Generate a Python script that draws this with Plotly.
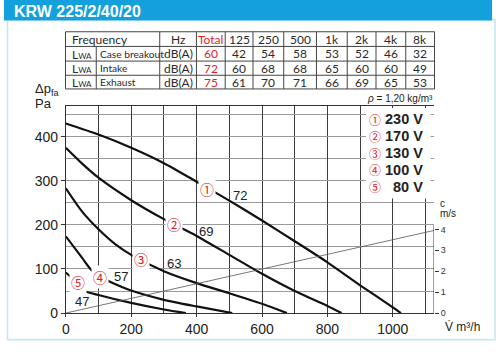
import plotly.graph_objects as go

W, H = 500, 354
TITLE = "KRW 225/2/40/20"

# ---------------- data ----------------
c1_flow = [0, 100, 200, 300, 400, 500, 600, 700, 800, 900, 1000, 1025]
c1_pa = [430, 405, 375, 340, 298, 255, 210, 163, 115, 63, 13, 0]
c2_flow = [0, 50, 100, 200, 300, 400, 500, 600, 700, 800, 843]
c2_pa = [375, 339, 307, 256, 213, 175, 132, 89, 50, 16, 0]
c3_flow = [0, 50, 100, 150, 200, 300, 400, 500, 600, 676]
c3_pa = [283, 230, 190, 157, 132, 95, 68, 45, 21, 0]
c4_flow = [0, 50, 79, 106, 135, 200, 300, 400, 509]
c4_pa = [174, 125, 97, 82, 71, 51, 30, 15, 0]
c5_flow = [0, 15, 36, 54, 100, 200, 300, 367]
c5_pa = [92, 82, 66, 51, 41, 23, 8, 0]
curves = [(c1_flow, c1_pa), (c2_flow, c2_pa), (c3_flow, c3_pa), (c4_flow, c4_pa), (c5_flow, c5_pa)]

# air velocity line (flow m³/h, c m/s)
vel_flow = [0, 1126]
vel_c = [0, 3.95]

marks = ["①", "②", "③", "④", "⑤"]
mark_flow = [433, 332, 231, 106, 36]
mark_pa = [282, 202, 123, 82, 71]
curve_labels = ["72", "69", "63", "57", "47"]
label_flow = [534, 429, 332, 170, 50]
label_pa = [267, 185, 112, 82, 27]
voltages = ["230 V", "170 V", "130 V", "100 V", "80 V"]

x_ticks = [0, 200, 400, 600, 800, 1000]
y_ticks = [0, 100, 200, 300, 400]
c_ticks = [0, 1, 2, 3, 4]

tbl_header = ["Total", "125", "250", "500", "1k", "2k", "4k", "8k"]
tbl_rows = ["Case breakout", "Intake", "Exhaust"]
tbl_total = ["60", "72", "75"]
tbl_bands = [["42", "54", "58", "53", "52", "46", "32"],
             ["60", "68", "68", "65", "60", "60", "49"],
             ["61", "70", "71", "66", "69", "65", "53"]]

# ---------------- layout geometry (px) ----------------
PX0, PX1 = 62.3, 433.5      # plot left/right
PY0, PY1 = 108.3, 320.3     # plot top/bottom
XMAX, YMAX = 1126, 470
C_PER_PX = 1 / 21.4
C_MAX = (PY1 - PY0) * C_PER_PX

def px(x, y):
    return x / W, 1 - y / H

TXT = "#222222"
TBL = "#2a2a2a"
RED = "#e2231a"
NARROW = "Lato, Liberation Sans, Arial, sans-serif"
SANS = "Liberation Sans, Arial, Helvetica, sans-serif"
CJK = "Noto Sans CJK JP, DejaVu Sans, sans-serif"

fig = go.Figure()
for fx, fy in curves:
    fig.add_trace(go.Scatter(x=fx, y=fy, mode="lines", line=dict(color="#111111", width=2.2, shape="spline", smoothing=0.7),
                             hoverinfo="skip", showlegend=False))
fig.add_trace(go.Scatter(x=vel_flow, y=vel_c, yaxis="y2", mode="lines", line=dict(color="#555555", width=0.8),
                         hoverinfo="skip", showlegend=False))

annotations = []
shapes = []

def ann(text, x, y, size, color=TXT, xanchor="center", yanchor="middle", family=SANS, bg=None, ref="paper"):
    if ref == "paper":
        xx, yy = px(x, y)
        d = dict(xref="paper", yref="paper", x=xx, y=yy)
    else:
        d = dict(xref="x", yref="y", x=x, y=y)
    d.update(text=text, showarrow=False, xanchor=xanchor, yanchor=yanchor,
             font=dict(size=size, color=color, family=family))
    if bg:
        d.update(bgcolor=bg, borderpad=1)
    annotations.append(d)

def rect_px(x0, y0, x1, y1, **kw):
    a0, b0 = px(x0, y0)
    a1, b1 = px(x1, y1)
    shapes.append(dict(type="rect", xref="paper", yref="paper", x0=a0, y0=b1, x1=a1, y1=b0, **kw))

def line_px(x0, y0, x1, y1, color="#444444", width=1):
    a0, b0 = px(x0, y0)
    a1, b1 = px(x1, y1)
    shapes.append(dict(type="line", xref="paper", yref="paper", x0=a0, y0=b0, x1=a1, y1=b1,
                       line=dict(color=color, width=width)))

# frame and title bar
rect_px(3.5, 20, 495, 347.5, line=dict(color="#c4e8f4", width=1.6), fillcolor="rgba(0,0,0,0)", layer="below")
rect_px(0, 0, 492, 21, line=dict(width=0), fillcolor="#14a0dc", layer="below")
ann("<b>" + TITLE + "</b>", 8, 11.5, 16, color="white", xanchor="left")

# table
col = [62, 93, 157, 194, 223, 251, 282, 315, 346, 375, 405, 434]
row = [32.5, 47.5, 62.5, 77, 91]
for yv in row:
    line_px(col[0], yv, col[-1], yv)
for i, xv in enumerate(col):
    if i == 1:
        line_px(xv, row[1], xv, row[-1])
    else:
        line_px(xv, row[0], xv, row[-1])
def rc(r):
    return (row[r] + row[r + 1]) / 2
def cc(c):
    return (col[c] + col[c + 1]) / 2
TS = 12
ann("Frequency", 67, rc(0), TS, family=NARROW, xanchor="left", color=TBL)
ann("Hz", cc(2), rc(0), TS, family=NARROW, color=TBL)
for j, h in enumerate(tbl_header):
    ann(h, cc(3 + j), rc(0), TS, family=NARROW, color=RED if j == 0 else TBL)
for r in range(3):
    ann("L<span style='font-size:8px'>WA</span>", 67, rc(r + 1) + 0.5, TS, family=NARROW, xanchor="left", color=TBL)
    ann(tbl_rows[r], 95, rc(r + 1), 10.2, family=NARROW, xanchor="left", color=TBL)
    ann("dB(A)", cc(2), rc(r + 1), TS, family=NARROW, color=TBL)
    ann(tbl_total[r], cc(3), rc(r + 1), TS, family=NARROW, color=RED)
    for j, v in enumerate(tbl_bands[r]):
        ann(v, cc(4 + j), rc(r + 1), TS, family=NARROW, color=TBL)

# axis titles and notes
ann("Δp<sub>fa</sub>", 29, 92, 13, xanchor="left")
ann("Pa", 29, 106, 13, xanchor="left")
ann("<i>ρ</i> = 1,20 kg/m³", 434, 101, 10, xanchor="right")
ann("c", 437, 208, 10, xanchor="left")
ann("m/s", 437, 218, 10, xanchor="left")
ann("V̇ m³/h", 443, 335, 12, xanchor="left")

# curve markers and labels
for m, fx, fy in zip(marks, mark_flow, mark_pa):
    ann(m, fx, fy, 14, color=RED, family=CJK, bg="white", ref="data")
for t, fx, fy in zip(curve_labels, label_flow, label_pa):
    ann(t, fx, fy, 13, ref="data")

# legend box
box_x0 = 918
rect_px(PX0 + box_x0 * (PX1 - PX0) / XMAX, 110.5, 430, 203, line=dict(width=0), fillcolor="white", layer="above")
for i, (m, v) in enumerate(zip(marks, voltages)):
    yy = 122 + 17.3 * i
    ann(m, 374, yy, 12, color=RED, family=CJK)
    ann("<b>" + v + "</b>", 424, yy, 14.5, xanchor="right")

# right velocity axis line
shapes.append(dict(type="line", xref="x", yref="y2", x0=XMAX, x1=XMAX, y0=0, y1=4.2,
                   line=dict(color="#333333", width=1)))

fig.update_layout(
    width=W, height=H, margin=dict(l=0, r=0, t=0, b=0),
    paper_bgcolor="white", plot_bgcolor="white",
    xaxis=dict(domain=[PX0 / W, PX1 / W], range=[0, XMAX], tickvals=x_ticks, ticks="outside", ticklen=3,
               tickcolor="#333333", showgrid=True, gridcolor="#3c3c3c", gridwidth=1,
               showline=True, linecolor="#333333", linewidth=1, mirror=True, zeroline=False,
               tickfont=dict(size=14, color=TXT, family=SANS),
               minor=dict(dtick=100, showgrid=True, gridcolor="#3c3c3c", gridwidth=1, ticks="")),
    yaxis=dict(domain=[1 - PY1 / H, 1 - PY0 / H], range=[0, YMAX], tickvals=y_ticks, ticks="outside", ticklen=4,
               tickcolor="#333333", showline=True, linecolor="#333333", linewidth=1, zeroline=False,
               showgrid=True, gridcolor="#9a9a9a", gridwidth=1.3,
               tickfont=dict(size=14, color=TXT, family=SANS),
               minor=dict(dtick=50, showgrid=True, gridcolor="#9a9a9a", gridwidth=1.3, ticks="")),
    yaxis2=dict(overlaying="y", side="right", range=[0, C_MAX], tickvals=c_ticks, ticks="outside", ticklen=4,
                tickcolor="#333333", showgrid=False, showline=False, zeroline=False,
                tickfont=dict(size=9, color="#333333", family=SANS)),
    annotations=annotations, shapes=shapes, showlegend=False,
)
fig.write_html("out.html")
